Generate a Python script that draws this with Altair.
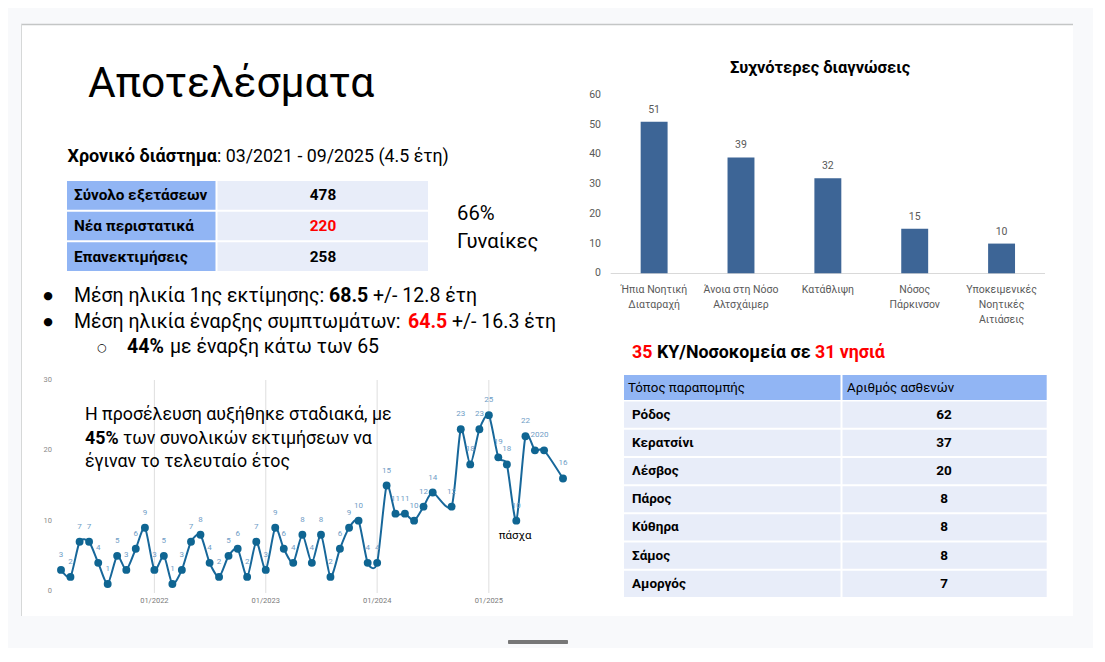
import altair as alt
import pandas as pd

OFF = 8


def S(v):
    return v - OFF


FONT = "Roboto"

# ---------------- data ----------------
title_text = "Αποτελέσματα"
period_label = "Χρονικό διάστημα"
period_value = ": 03/2021 - 09/2025 (4.5 έτη)"

summary_labels = ["Σύνολο εξετάσεων", "Νέα περιστατικά", "Επανεκτιμήσεις"]
summary_values = [478, 220, 258]
women_pct = "66%"
women_label = "Γυναίκες"

age1 = ["Μέση ηλικία 1ης εκτίμησης:", "68.5", "+/- 12.8 έτη"]
age2 = ["Μέση ηλικία έναρξης συμπτωμάτων:", "64.5", "+/- 16.3 έτη"]
age3 = ["44%", "με έναρξη κάτω των 65"]

para = ["Η προσέλευση αυξήθηκε σταδιακά, με", "45%", "των συνολικών εκτιμήσεων να",
        "έγιναν το τελευταίο έτος"]
easter = "πάσχα"

months = ["2021-03-01", "2021-04-01", "2021-05-01", "2021-06-01", "2021-07-01", "2021-08-01",
          "2021-09-01", "2021-10-01", "2021-11-01", "2021-12-01", "2022-01-01", "2022-02-01",
          "2022-03-01", "2022-04-01", "2022-05-01", "2022-06-01", "2022-07-01", "2022-08-01",
          "2022-09-01", "2022-10-01", "2022-11-01", "2022-12-01", "2023-01-01", "2023-02-01",
          "2023-03-01", "2023-04-01", "2023-05-01", "2023-06-01", "2023-07-01", "2023-08-01",
          "2023-09-01", "2023-10-01", "2023-11-01", "2023-12-01", "2024-01-01", "2024-02-01",
          "2024-03-01", "2024-04-01", "2024-05-01", "2024-06-01", "2024-07-01", "2024-09-01",
          "2024-10-01", "2024-11-01", "2024-12-01", "2025-01-01", "2025-02-01", "2025-03-01",
          "2025-04-01", "2025-05-01", "2025-06-01", "2025-07-01", "2025-09-01"]
visits = [3, 2, 7, 7, 4, 1, 5, 3, 6, 9, 3, 5,
          1, 3, 7, 8, 4, 2, 5, 6, 2, 7, 3, 9,
          6, 4, 8, 4, 8, 2, 6, 9, 10, 4, 4, 15,
          11, 11, 10, 12, 14, 12,
          23, 18, 23, 25, 19, 18,
          10, 22, 20, 20, 16]
year_starts = ["2022-01-01", "2023-01-01", "2024-01-01", "2025-01-01"]
year_labels = ["01/2022", "01/2023", "01/2024", "01/2025"]
visit_ticks = [0, 10, 20, 30]

diag_title = "Συχνότερες διαγνώσεις"
diag_labels = ["Ήπια Νοητική\nΔιαταραχή", "Άνοια στη Νόσο\nΑλτσχάιμερ", "Κατάθλιψη",
               "Νόσος\nΠάρκινσον", "Υποκειμενικές\nΝοητικές\nΑιτιάσεις"]
diag_values = [51, 39, 32, 15, 10]
diag_ticks = [0, 10, 20, 30, 40, 50, 60]

centres_title = ["35", "ΚΥ/Νοσοκομεία σε", "31 νησιά"]
table_head = ["Τόπος παραπομπής", "Αριθμός ασθενών"]
places = ["Ρόδος", "Κερατσίνι", "Λέσβος", "Πάρος", "Κύθηρα", "Σάμος", "Αμοργός"]
place_counts = [62, 37, 20, 8, 8, 8, 7]

# ---------------- helpers ----------------
ONE = pd.DataFrame({"a": [0]})
BLUE = "#91b5f4"
LIGHT = "#e8edf9"


def txt(s, x, y, size, weight="normal", color="#000000", align="left",
        baseline="alphabetic", font=FONT):
    return alt.Chart(pd.DataFrame({"t": [s]})).mark_text(
        font=font, fontSize=size, fontWeight=weight, color=color, align=align,
        baseline=baseline).encode(x=alt.value(S(x)), y=alt.value(S(y)), text="t:N")


def box(x1, y1, x2, y2, color, **kw):
    return alt.Chart(ONE).mark_rect(color=color, **kw).encode(
        x=alt.value(S(x1)), x2=alt.value(S(x2)), y=alt.value(S(y1)), y2=alt.value(S(y2)))


def hline(x1, x2, y, color, w):
    return alt.Chart(ONE).mark_rule(color=color, strokeWidth=w).encode(
        x=alt.value(S(x1)), x2=alt.value(S(x2)), y=alt.value(S(y)))


def vline(x, y1, y2, color, w):
    return alt.Chart(ONE).mark_rule(color=color, strokeWidth=w).encode(
        x=alt.value(S(x)), y=alt.value(S(y1)), y2=alt.value(S(y2)))


layers = []

# slide
layers.append(box(21, 24, 1073, 616, "#ffffff"))
layers.append(hline(21, 1073, 24.5, "#c4c6c6", 1.5))
layers.append(vline(21.5, 24, 616, "#d6d8d8", 1))
layers.append(box(508, 640, 568, 644, "#777777", cornerRadius=1))

# title & header text
layers.append(txt(title_text, 88, 97, 42.5))
layers.append(txt(period_label, 217, 162, 18, "bold", align="right"))
layers.append(txt(period_value, 217, 162, 17.8))

# summary table
t1 = pd.DataFrame({"label": summary_labels, "value": summary_values})
y1s = alt.Scale(type="band", domain=summary_labels, range=[S(181), S(271)],
                paddingInner=0.067, paddingOuter=0)
y1 = alt.Y("label:N", sort=summary_labels, scale=y1s, axis=None)
layers.append(alt.Chart(t1).mark_rect(color=BLUE).encode(
    x=alt.value(S(67)), x2=alt.value(S(215.5)), y=y1))
layers.append(alt.Chart(t1).mark_rect(color=LIGHT).encode(
    x=alt.value(S(217.5)), x2=alt.value(S(428)), y=y1))
layers.append(alt.Chart(t1).mark_text(font=FONT, fontSize=15.3, fontWeight="bold", align="left",
                                      baseline="middle", color="#000000").encode(
    x=alt.value(S(74)), y=y1, text="label:N"))
layers.append(alt.Chart(t1).mark_text(font=FONT, fontSize=15.3, fontWeight="bold",
                                      align="center", baseline="middle").encode(
    x=alt.value(S(323)), y=y1, text="value:Q",
    color=alt.condition(alt.datum.label == "Νέα περιστατικά", alt.value("#ff0000"),
                        alt.value("#000000"))))

layers.append(txt(women_pct, 457, 220, 20.3))
layers.append(txt(women_label, 457, 248, 20.3))

# bullets
layers.append(txt("●", 48, 296, 11, align="center", baseline="middle", font="DejaVu Sans"))
layers.append(txt("●", 48, 322, 11, align="center", baseline="middle", font="DejaVu Sans"))
layers.append(txt("○", 102, 348, 11, align="center", baseline="middle", font="DejaVu Sans"))
BS = 19.5
layers.append(txt(age1[0], 74, 301.5, BS))
layers.append(txt(age1[1], 329, 301.5, BS, "bold"))
layers.append(txt(age1[2], 373, 301.5, BS))
layers.append(txt(age2[0], 74, 327.5, BS))
layers.append(txt(age2[1], 408, 327.5, BS, "bold", color="#ff0000"))
layers.append(txt(age2[2], 452, 327.5, BS))
layers.append(txt(age3[0], 127, 353, BS, "bold"))
layers.append(txt(age3[1], 170, 353, BS))

# ---------------- line chart ----------------
xls = alt.Scale(domain=[alt.DateTime(year=2021, month=3, date=1, utc=True),
                        alt.DateTime(year=2025, month=9, date=1, utc=True)],
                range=[S(61), S(563)], nice=False)
yls = alt.Scale(domain=[0, 30], range=[S(591), S(380)], nice=False, zero=False)
grid = pd.DataFrame({"d": year_starts, "lab": year_labels})
layers.append(alt.Chart(grid).mark_rule(color="#dedede", strokeWidth=1).encode(
    x=alt.X("d:T", scale=xls, axis=None), y=alt.value(S(380)), y2=alt.value(S(593))))
layers.append(alt.Chart(grid).mark_text(font=FONT, fontSize=7.5, color="#7a7a7a",
                                        baseline="middle").encode(
    x=alt.X("d:T", scale=xls, axis=None), y=alt.value(S(600.5)), text="lab:N"))
yt = pd.DataFrame({"v": visit_ticks})
layers.append(alt.Chart(yt).mark_text(font=FONT, fontSize=7.5, color="#8a8a8a", align="right",
                                      baseline="middle").encode(
    x=alt.value(S(52)), y=alt.Y("v:Q", scale=yls, axis=None), text="v:Q"))

lc = pd.DataFrame({"m": months, "n": visits})
LX = alt.X("m:T", scale=xls, axis=None)
LY = alt.Y("n:Q", scale=yls, axis=None)
layers.append(alt.Chart(lc).mark_line(color="#17679a", strokeWidth=2,
                                      interpolate="cardinal", tension=0.3).encode(x=LX, y=LY))
layers.append(alt.Chart(lc).mark_circle(color="#0f6592", opacity=1, size=62).encode(x=LX, y=LY))
layers.append(alt.Chart(lc).mark_text(font=FONT, fontSize=8, color="#6f9dc6", dy=-15,
                                      baseline="middle").encode(x=LX, y=LY, text="n:Q"))
layers.append(txt(easter, 515, 535.5, 11.5, align="center", baseline="middle"))

PS = 17.8
layers.append(txt(para[0], 85, 420, PS))
layers.append(txt(para[1], 85, 444, PS, "bold"))
layers.append(txt(para[2], 123, 444, PS))
layers.append(txt(para[3], 85, 467, PS))

# ---------------- bar chart ----------------
xbs = alt.Scale(type="band", domain=diag_labels, range=[S(610.7), S(1045)],
                paddingInner=0.69, paddingOuter=0.345)
ybs = alt.Scale(domain=[0, 60], range=[S(273.3), S(95)], nice=False, zero=True)
bd = pd.DataFrame({"c": diag_labels, "v": diag_values})
BX = alt.X("c:N", sort=diag_labels, scale=xbs, axis=None)
BY = alt.Y("v:Q", scale=ybs, axis=None)
layers.append(txt(diag_title, 820, 68, 16.5, "bold", align="center", baseline="middle"))
layers.append(hline(610.7, 1045, 273.5, "#d9d9d9", 1))
layers.append(alt.Chart(bd).mark_bar(color="#3d6596").encode(x=BX, y=BY))
layers.append(alt.Chart(bd).mark_text(font=FONT, fontSize=10.5, color="#595959", dy=-12,
                                      baseline="middle").encode(x=BX, y=BY, text="v:Q"))
layers.append(alt.Chart(bd).mark_text(font=FONT, fontSize=10.5, color="#595959",
                                      baseline="alphabetic", lineBreak="\n",
                                      lineHeight=15).encode(
    x=BX, y=alt.value(S(293)), text="c:N"))
bt = pd.DataFrame({"v": diag_ticks})
layers.append(alt.Chart(bt).mark_text(font=FONT, fontSize=10.5, color="#595959", align="right",
                                      baseline="middle").encode(
    x=alt.value(S(601)), y=alt.Y("v:Q", scale=ybs, axis=None), text="v:Q"))

# ---------------- places table ----------------
TS = 17.8
layers.append(txt(centres_title[0], 632, 358, TS, "bold", color="#ff0000"))
layers.append(txt(centres_title[1], 657, 358, TS, "bold"))
layers.append(txt(centres_title[2], 815, 358, TS, "bold", color="#ff0000"))

layers.append(box(624, 375, 840.5, 400, BLUE))
layers.append(box(842.5, 375, 1046.7, 400, BLUE))
layers.append(txt(table_head[0], 628, 387.5, 13.3, baseline="middle"))
layers.append(txt(table_head[1], 847, 387.5, 13.3, baseline="middle"))

t2 = pd.DataFrame({"p": places, "k": place_counts})
y2s = alt.Scale(type="band", domain=places, range=[S(401.5), S(597)],
                paddingInner=0.07, paddingOuter=0)
Y2 = alt.Y("p:N", sort=places, scale=y2s, axis=None)
layers.append(alt.Chart(t2).mark_rect(color=LIGHT).encode(
    x=alt.value(S(624)), x2=alt.value(S(840.5)), y=Y2))
layers.append(alt.Chart(t2).mark_rect(color=LIGHT).encode(
    x=alt.value(S(842.5)), x2=alt.value(S(1046.7)), y=Y2))
layers.append(alt.Chart(t2).mark_text(font=FONT, fontSize=13.5, fontWeight="bold", align="left",
                                      baseline="middle", color="#000000").encode(
    x=alt.value(S(632)), y=Y2, text="p:N"))
layers.append(alt.Chart(t2).mark_text(font=FONT, fontSize=13.5, fontWeight="bold",
                                      align="center", baseline="middle",
                                      color="#000000").encode(
    x=alt.value(S(944)), y=Y2, text="k:Q"))

chart = alt.layer(*layers).resolve_scale(x="independent", y="independent").properties(
    width=1085, height=640, autosize=alt.AutoSizeParams(type="none"), padding=0,
    background="#f8f9fb").configure_view(strokeWidth=0)

chart.save("out.html", embed_options={"renderer": "svg", "actions": False})
